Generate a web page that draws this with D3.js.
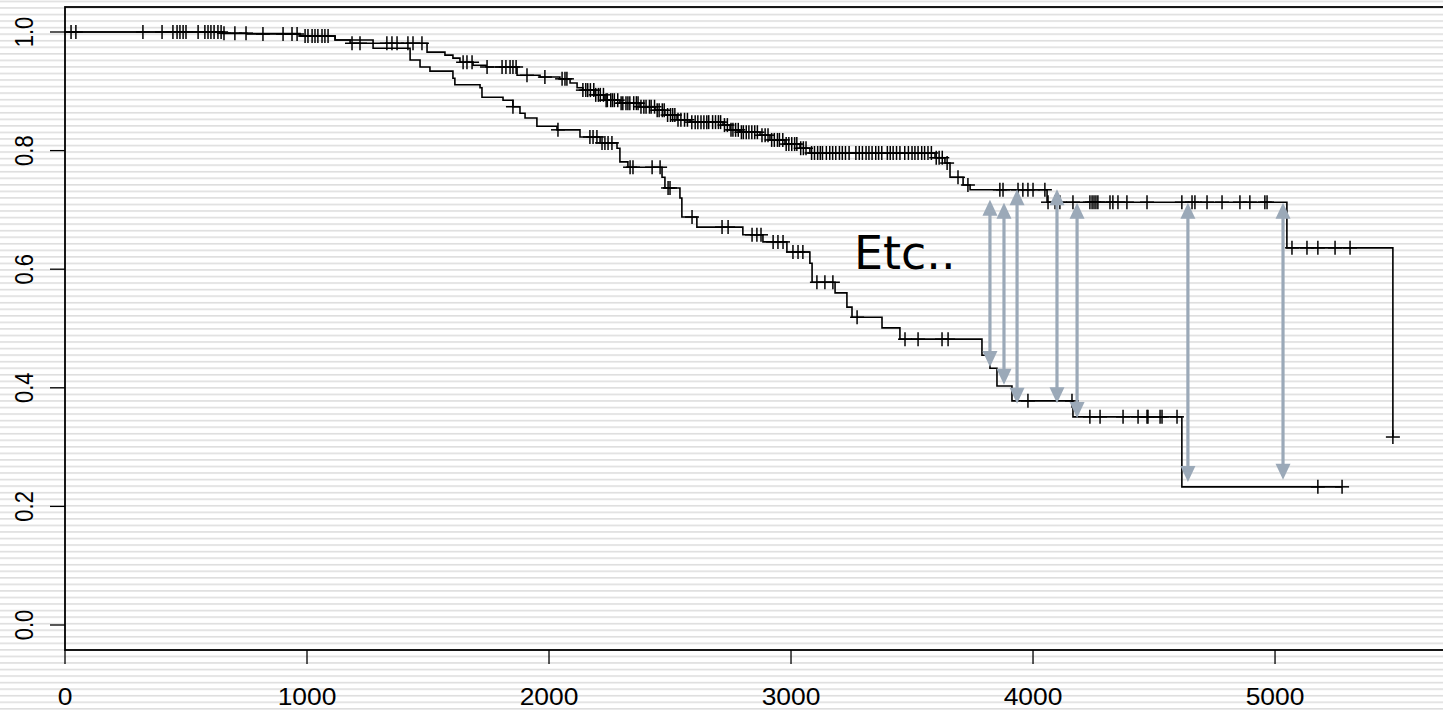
<!DOCTYPE html>
<html><head><meta charset="utf-8">
<script src="https://cdn.jsdelivr.net/npm/d3@7"></script>
<style>
html,body{margin:0;padding:0;background:#fff;overflow:hidden}
svg{display:block}
</style></head>
<body>
<svg id="chart" width="1443" height="713"></svg>
<script>
// ---------- data ----------
const xTicks = [0, 1000, 2000, 3000, 4000, 5000];
const yTicks = [0.0, 0.2, 0.4, 0.6, 0.8, 1.0];
const yTickLabels = ["0.0", "0.2", "0.4", "0.6", "0.8", "1.0"];

// upper curve: event times and survival after each step
const upperTimes = [653, 752, 971, 1116, 1178, 1496, 1570, 1603, 1632, 1686, 1740, 1868, 1963, 2045, 2087, 2116, 2140, 2190, 2231, 2293, 2376, 2438, 2479, 2529, 2583, 2719, 2748, 2789, 2872, 2913, 2975, 3037, 3078, 3595, 3636, 3657, 3711, 3740, 4058, 5049, 5487];
const upperSurv  = [0.998, 0.9966, 0.9933, 0.9865, 0.981, 0.966, 0.961, 0.956, 0.949, 0.944, 0.941, 0.927, 0.924, 0.921, 0.914, 0.906, 0.902, 0.894, 0.885, 0.880, 0.874, 0.868, 0.860, 0.852, 0.848, 0.843, 0.835, 0.831, 0.826, 0.818, 0.811, 0.804, 0.796, 0.788, 0.779, 0.755, 0.742, 0.734, 0.713, 0.636, 0.317];
const upperCensor = [25, 45, 322, 401, 446, 463, 475, 488, 500, 550, 578, 591, 603, 616, 632, 645, 657, 702, 748, 818, 901, 938, 959, 992, 1004, 1021, 1033, 1045, 1062, 1074, 1087, 1186, 1219, 1330, 1351, 1372, 1417, 1438, 1475, 1645, 1661, 1682, 1744, 1806, 1822, 1839, 1851, 1864, 1909, 1983, 2054, 2066, 2074,
  2140, 2152, 2160, 2171, 2185, 2193, 2204, 2212, 2225, 2236, 2241, 2255, 2262, 2270, 2284, 2298, 2305, 2318, 2326, 2334, 2350, 2361, 2368, 2380, 2392, 2401, 2415, 2422, 2436, 2447, 2455, 2468, 2476, 2490, 2502, 2511, 2520, 2533, 2545, 2560, 2572, 2590, 2604, 2615, 2628, 2640, 2652, 2660, 2676, 2688, 2700, 2709, 2725, 2737, 2752, 2760, 2771, 2782, 2795, 2803, 2815, 2826, 2838, 2850, 2861, 2880, 2893, 2905, 2920, 2931, 2944, 2952, 2966, 2980, 2991, 3003, 3015, 3024, 3040, 3051, 3062, 3085, 3097, 3110, 3121, 3130, 3146, 3160, 3172, 3185, 3200, 3212, 3225, 3240, 3268, 3282, 3295, 3310, 3322, 3335, 3350, 3362, 3375, 3398, 3410, 3422, 3436, 3450, 3470, 3485, 3500, 3512, 3525, 3540, 3552, 3566, 3580, 3600, 3612, 3625, 3645, 3690, 3731,
  3863, 3876, 3938, 3958, 3979, 4000, 4049, 4062, 4091, 4111, 4165, 4235, 4244, 4252, 4260, 4268, 4318, 4330, 4351, 4388, 4471, 4615, 4657, 4669, 4719, 4781, 4855, 4896, 4958, 4967, 5070, 5132, 5177, 5248, 5310, 5487];

// lower curve
const lowerTimes = [653, 971, 1116, 1273, 1426, 1467, 1508, 1603, 1611, 1715, 1723, 1810, 1851, 1880, 1901, 1950, 2033, 2128, 2211, 2281, 2293, 2326, 2467, 2479, 2541, 2549, 2611, 2801, 2884, 2983, 3078, 3087, 3182, 3231, 3252, 3376, 3450, 3789, 3822, 3851, 3913, 4165, 4615];
const lowerSurv  = [0.9975, 0.9933, 0.9865, 0.9725, 0.9528, 0.941, 0.934, 0.922, 0.911, 0.906, 0.890, 0.885, 0.874, 0.863, 0.855, 0.841, 0.835, 0.823, 0.813, 0.804, 0.781, 0.772, 0.755, 0.737, 0.720, 0.688, 0.671, 0.658, 0.646, 0.629, 0.610, 0.578, 0.560, 0.536, 0.519, 0.501, 0.482, 0.455, 0.433, 0.403, 0.378, 0.351, 0.233];
const lowerCensor = [1851, 2037, 2169, 2182, 2198, 2219, 2231, 2244, 2260, 2335, 2347, 2426, 2459, 2492, 2500, 2591, 2715, 2740, 2839, 2859, 2876, 2926, 2946, 2967, 3008, 3029, 3049, 3107, 3140, 3173, 3273, 3471, 3525, 3624, 3649, 3979, 4161, 4235, 4277, 4372, 4434, 4471, 4475, 4525, 4533, 4595, 5177, 5277];

// annotation arrows
const arrowTimes  = [3822, 3880, 3934, 4099, 4182, 4640, 5033];
const arrowTop    = [0.717, 0.712, 0.735, 0.735, 0.712, 0.712, 0.712];
const arrowBottom = [0.435, 0.405, 0.373, 0.374, 0.349, 0.241, 0.245];
const noteText = "Etc..";
const noteAt = [3260, 0.60];

// ---------- drawing ----------
const W = 1443, H = 713;
const svg = d3.select("#chart");
const x = d3.scaleLinear().domain([0, 5723]).range([65, 1450]);
const y = d3.scaleLinear().domain([0, 1]).range([625, 32]);
const yLo = y.invert(650), yHi = y.invert(7);

// striped background
const defs = svg.append("defs");
const pat = defs.append("pattern").attr("id", "stripes")
  .attr("patternUnits", "userSpaceOnUse").attr("width", 20).attr("height", 6.55)
  .attr("y", 0.6);
pat.append("rect").attr("width", 20).attr("height", 6.55).attr("fill", "#ffffff");
pat.append("rect").attr("y", 0).attr("width", 20).attr("height", 1.6).attr("fill", "#dedede");
svg.append("rect").attr("width", W).attr("height", H).attr("fill", "url(#stripes)");

const labelFont = "'Liberation Sans', Arial, sans-serif";

// frame
svg.append("rect")
  .attr("x", x(0)).attr("y", y(yHi))
  .attr("width", x(5723) - x(0)).attr("height", y(yLo) - y(yHi))
  .attr("fill", "none").attr("stroke", "#000").attr("stroke-width", 1.8);

// x axis
const xAxis = svg.append("g");
xTicks.forEach(t => {
  xAxis.append("line").attr("x1", x(t)).attr("x2", x(t))
    .attr("y1", y(yLo)).attr("y2", y(yLo) + 14).attr("stroke", "#000").attr("stroke-width", 1.3);
  xAxis.append("text")
    .attr("transform", `translate(${x(t)},${y(yLo) + 55}) scale(1.1,1)`)
    .attr("text-anchor", "middle").attr("font-family", labelFont).attr("font-size", 24)
    .attr("fill", "#000").text(String(t));
});

// y axis
const yAxis = svg.append("g");
yTicks.forEach((v, i) => {
  yAxis.append("line").attr("x1", x(0) - 15).attr("x2", x(0))
    .attr("y1", y(v)).attr("y2", y(v)).attr("stroke", "#000").attr("stroke-width", 1.3);
  yAxis.append("text")
    .attr("transform", `translate(${x(0) - 32},${y(v)}) scale(1.2,1) rotate(-90)`)
    .attr("text-anchor", "middle").attr("font-family", labelFont).attr("font-size", 22)
    .attr("fill", "#000").text(yTickLabels[i]);
});

// KM curves
function stepPoints(times, surv, endTime) {
  const pts = [[0, 1]];
  times.forEach((t, i) => pts.push([t, surv[i]]));
  pts.push([endTime, surv[surv.length - 1]]);
  return pts;
}
function survAt(times, surv, t) {
  let s = 1;
  for (let i = 0; i < times.length; i++) { if (times[i] <= t) s = surv[i]; else break; }
  return s;
}
const line = d3.line().x(d => x(d[0])).y(d => y(d[1])).curve(d3.curveStepAfter);

const curves = [
  {times: upperTimes, surv: upperSurv, cens: upperCensor},
  {times: lowerTimes, surv: lowerSurv, cens: lowerCensor}
];
curves.forEach(c => {
  const end = Math.max(c.times[c.times.length - 1], d3.max(c.cens));
  svg.append("path").attr("d", line(stepPoints(c.times, c.surv, end)))
    .attr("fill", "none").attr("stroke", "#000").attr("stroke-width", 1.6);
  const g = svg.append("g").attr("stroke", "#000").attr("stroke-width", 1.5);
  c.cens.forEach(t => {
    const cx = x(t), cy = y(survAt(c.times, c.surv, t));
    g.append("line").attr("x1", cx - 7).attr("x2", cx + 7).attr("y1", cy).attr("y2", cy);
    g.append("line").attr("x1", cx).attr("x2", cx).attr("y1", cy - 7).attr("y2", cy + 7);
  });
});

// arrows
const arrowColor = "#9ba9b8";
const headLen = 16, headHalf = 7.5;
const ag = svg.append("g");
arrowTimes.forEach((t, i) => {
  const ax = x(t), yt = y(arrowTop[i]), yb = y(arrowBottom[i]);
  ag.append("line").attr("x1", ax).attr("x2", ax).attr("y1", yt + headLen - 2).attr("y2", yb - headLen + 2)
    .attr("stroke", arrowColor).attr("stroke-width", 3.2);
  ag.append("path").attr("d", `M${ax},${yt} L${ax - headHalf},${yt + headLen} L${ax + headHalf},${yt + headLen} Z`)
    .attr("fill", arrowColor);
  ag.append("path").attr("d", `M${ax},${yb} L${ax - headHalf},${yb - headLen} L${ax + headHalf},${yb - headLen} Z`)
    .attr("fill", arrowColor);
});

// note
svg.append("text").attr("x", x(noteAt[0])).attr("y", y(noteAt[1]))
  .attr("font-family", "'DejaVu Sans', sans-serif").attr("font-size", 46)
  .attr("fill", "#000").text(noteText);
</script>
</body></html>
